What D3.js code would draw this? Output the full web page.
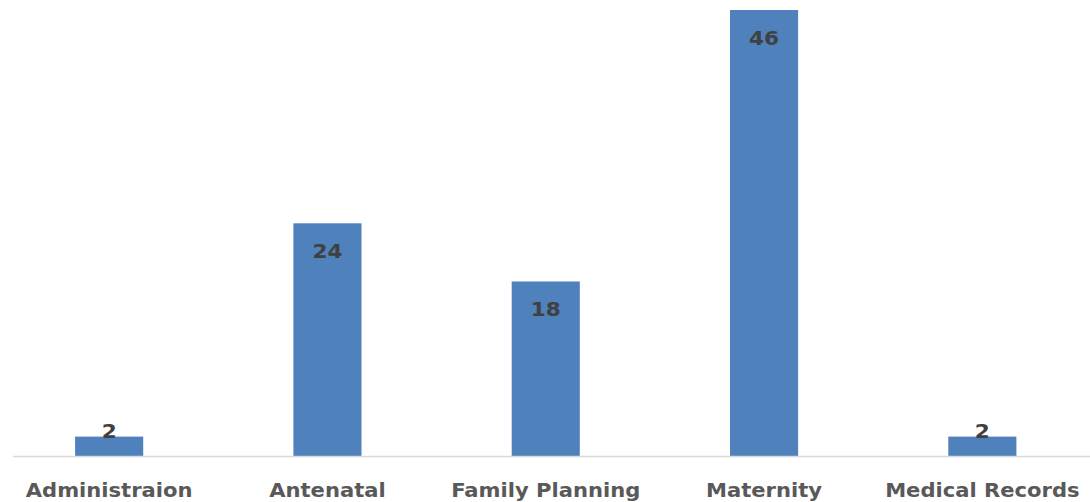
<!DOCTYPE html>
<html><head><meta charset="utf-8">
<script src="https://cdn.jsdelivr.net/npm/d3@7"></script>
<style>html,body{margin:0;padding:0;background:#fff;overflow:hidden}</style>
</head><body>
<svg id="chart" width="1090" height="502"></svg>
<script>
const categories = ["Administraion", "Antenatal", "Family Planning", "Maternity", "Medical Records"];
const values = [2, 24, 18, 46, 2];

const svg = d3.select("#chart");
const baseY = 456, topY = 10;

const x = d3.scaleBand().domain(categories).range([0, 1091.5]).paddingInner(0.688).paddingOuter(0.344);
const y = d3.scaleLinear().domain([0, 46]).range([baseY, topY]);

svg.selectAll("rect.bar").data(values).join("rect")
  .attr("class", "bar")
  .attr("x", (d, i) => x(categories[i]))
  .attr("width", x.bandwidth())
  .attr("y", d => y(d))
  .attr("height", d => baseY - y(d))
  .attr("fill", "#4f81bd");

const axis = svg.append("g").attr("transform", `translate(0,${baseY + 0.5})`)
  .call(d3.axisBottom(x).tickSize(0).tickPadding(0));
axis.select(".domain").attr("d", "M13,0H1090").attr("stroke", "#d9d9d9").attr("stroke-width", 1.5);
axis.selectAll(".tick text")
  .attr("y", 0)
  .attr("dy", 0)
  .attr("transform", "translate(0,40) scale(1.11,1)")
  .attr("font-family", "DejaVu Sans")
  .attr("font-weight", "bold")
  .attr("font-size", 19)
  .attr("fill", "#595959");

svg.selectAll("text.val").data(values).join("text")
  .attr("class", "val")
  .attr("transform", (d, i) => {
    const cx = x(categories[i]) + x.bandwidth() / 2;
    const cy = (baseY - y(d)) > 40 ? y(d) + 35 : y(d) + 1;
    return `translate(${cx},${cy}) scale(1.08,1)`;
  })
  .attr("text-anchor", "middle")
  .attr("font-family", "DejaVu Sans")
  .attr("font-weight", "bold")
  .attr("font-size", 20)
  .attr("fill", "#404040")
  .text(d => d);
</script>
</body></html>
